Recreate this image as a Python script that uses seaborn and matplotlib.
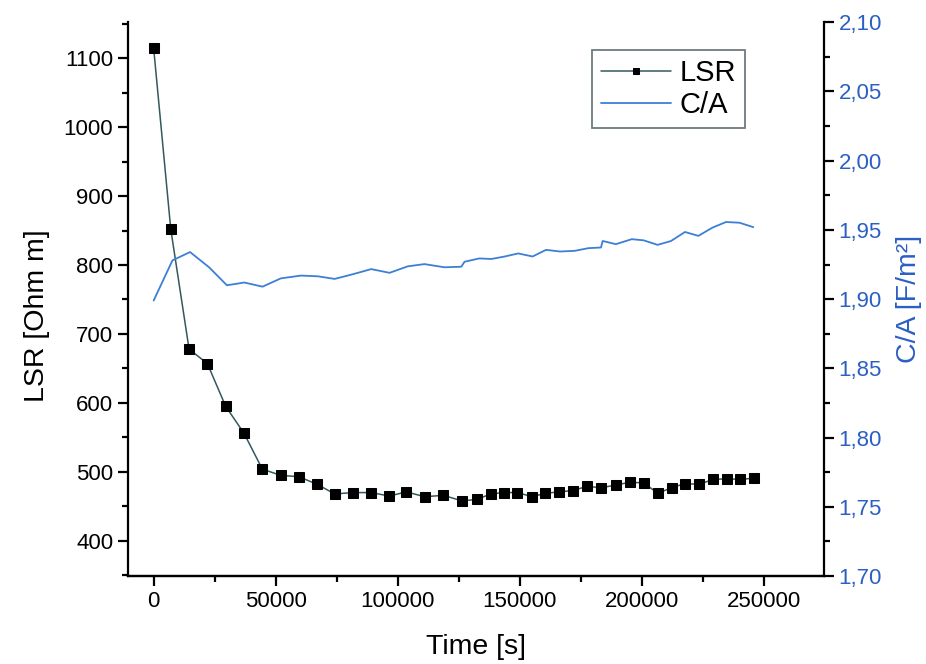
import numpy as np
import pandas as pd
import matplotlib
matplotlib.use("Agg")
import matplotlib.pyplot as plt
import seaborn as sns
from matplotlib.ticker import MultipleLocator, FuncFormatter

sns.set_theme(style="ticks")
plt.rcParams["font.family"] = ["Liberation Sans", "DejaVu Sans"]

# LSR series (square markers)
lsr_time = [0, 7000, 14500, 22000, 29500, 37000, 44500, 52000, 59500, 66900,
            74200, 81500, 89000, 96500, 103500, 111000, 118700, 126200, 132400,
            138000, 143500, 149000, 155000, 160400, 166200, 171700, 177500,
            183400, 189300, 195200, 200700, 206500, 212100, 217600, 223400,
            229100, 234700, 240200, 246000]
lsr_value = [1114, 852, 678, 657, 595, 556, 504, 495, 493, 482,
             468, 470, 470, 465, 471, 464, 466, 458, 460,
             468, 470, 470, 464, 469, 471, 473, 479,
             477, 481, 485, 484, 469, 477, 483, 482,
             489, 490, 489, 491]

# C/A series (thin blue line, right axis)
ca_time = [0, 7700, 14900, 22700, 30000, 37100, 44600, 52100, 60300, 67200,
           74100, 81600, 89100, 96600, 104100, 110900, 119100, 126000, 127300,
           133400, 138300, 143800, 149300, 155200, 160700, 166400, 172500,
           178000, 183200, 183900, 189300, 195800, 200600, 206400, 211900,
           217600, 223100, 228800, 234400, 239900, 245600]
ca_value = [1.899, 1.928, 1.934, 1.923, 1.910, 1.912, 1.909, 1.915, 1.917, 1.9165,
            1.9146, 1.918, 1.9217, 1.919, 1.9237, 1.9253, 1.923, 1.9234, 1.927,
            1.9294, 1.929, 1.9308, 1.933, 1.9308, 1.9356, 1.9344, 1.9349,
            1.9368, 1.9373, 1.942, 1.9397, 1.9433, 1.9425, 1.9392, 1.942,
            1.9485, 1.9457, 1.9516, 1.9557, 1.9552, 1.952]

lsr_df = pd.DataFrame({"time": lsr_time, "LSR": lsr_value})
ca_df = pd.DataFrame({"time": ca_time, "C/A": ca_value})

blue = "#2b5fc2"
line_blue = "#3c7fd6"

fig = plt.figure(figsize=(9.26, 6.64), dpi=100)
ax = fig.add_axes([0.138, 0.1325, 0.752, 0.834])
ax2 = ax.twinx()

sns.lineplot(data=lsr_df, x="time", y="LSR", ax=ax, sort=False, color="#34585f",
             linewidth=1.1, marker="s", markersize=7, markerfacecolor="black",
             markeredgecolor="black", label="LSR", legend=False)
sns.lineplot(data=ca_df, x="time", y="C/A", ax=ax2, sort=False, color=line_blue,
             linewidth=1.3, label="C/A", legend=False)

ax.set_xlim(-10600, 274600)
ax.set_ylim(349, 1152)
ax2.set_ylim(1.70, 2.10)

ax.xaxis.set_major_locator(MultipleLocator(50000))
ax.xaxis.set_minor_locator(MultipleLocator(25000))
ax.yaxis.set_major_locator(MultipleLocator(100))
ax.yaxis.set_minor_locator(MultipleLocator(50))
ax2.yaxis.set_major_locator(MultipleLocator(0.05))
ax2.yaxis.set_minor_locator(MultipleLocator(0.025))
ax2.yaxis.set_major_formatter(FuncFormatter(lambda v, p: f"{v:.2f}".replace(".", ",")))

for a in (ax, ax2):
    a.spines["top"].set_visible(False)
    for s in a.spines.values():
        s.set_linewidth(1.6)
        s.set_color("black")
    a.tick_params(which="major", direction="out", length=7, width=1.6, labelsize=16,
                  colors="black")
    a.tick_params(which="minor", direction="out", length=4, width=1.6, colors="black")

ax.spines["right"].set_visible(False)
ax2.spines["left"].set_visible(False)
ax2.tick_params(axis="y", labelcolor=blue)

ax.set_xlabel("Time [s]", fontsize=20.5, labelpad=16, color="black")
ax.set_ylabel("LSR [Ohm m]", fontsize=20.5, color="black")
ax.yaxis.set_label_coords(-0.112, 0.47)
ax2.set_ylabel("C/A [F/m²]", fontsize=20.5, color=blue, labelpad=10)

h1, l1 = ax.get_legend_handles_labels()
h2, l2 = ax2.get_legend_handles_labels()
leg = ax2.legend(h1 + h2, l1 + l2, loc="upper left", bbox_to_anchor=(592 / 926, 1 - 50 / 664),
                 bbox_transform=fig.transFigure, fontsize=21, frameon=True, fancybox=False,
                 edgecolor="#4a5a60", handlelength=2.4, borderpad=0.3, labelspacing=0.15,
                 handletextpad=0.3, borderaxespad=0, markerscale=0.7, labelcolor="black")
leg.get_frame().set_linewidth(1.3)

fig.savefig("out.png", dpi=100)
